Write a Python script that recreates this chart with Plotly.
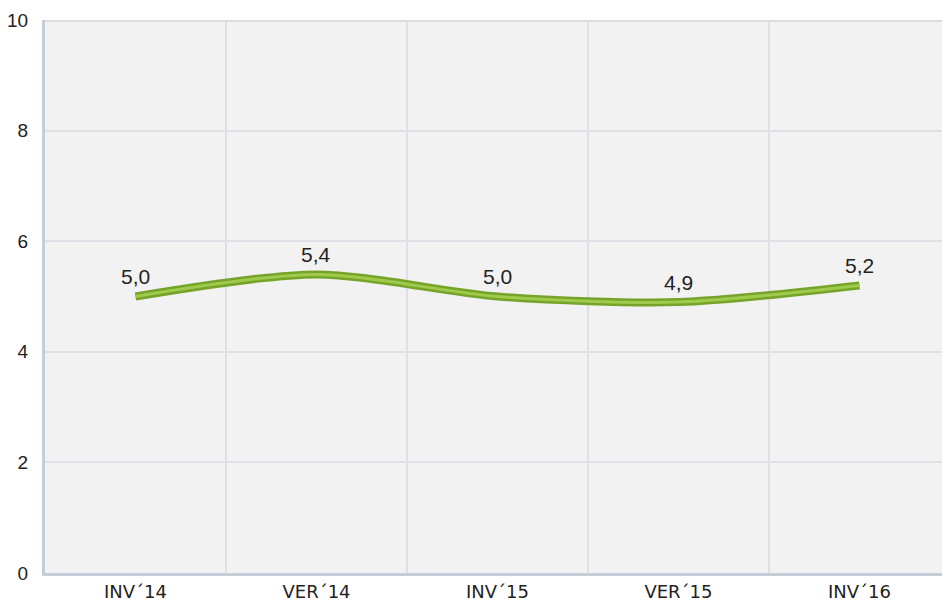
import plotly.graph_objects as go

categories = ["INV´14", "VER´14", "INV´15", "VER´15", "INV´16"]
values = [5.0, 5.4, 5.0, 4.9, 5.2]
labels = ["5,0", "5,4", "5,0", "4,9", "5,2"]
y_ticks = [0, 2, 4, 6, 8, 10]

xpos = list(range(len(categories)))

FONT = "Liberation Sans"

fig = go.Figure()
fig.add_trace(go.Scatter(
    x=xpos, y=values, mode="lines",
    line=dict(color="#76a42a", width=8, shape="spline", smoothing=0.8),
    hoverinfo="skip", showlegend=False))
fig.add_trace(go.Scatter(
    x=xpos, y=values, mode="lines",
    line=dict(color="#9fca4c", width=3, shape="spline", smoothing=0.8),
    showlegend=False))

for xi, yi, lab in zip(xpos, values, labels):
    fig.add_annotation(x=xi, y=yi, text=lab, showarrow=False,
                       yshift=20, yanchor="middle",
                       font=dict(family=FONT, size=21, color="#222222"))

fig.add_shape(type="line", xref="paper", yref="y", x0=0, x1=1, y0=10, y1=10,
              line=dict(color="#dcdcdc", width=4), layer="above")

fig.update_layout(
    width=942, height=610,
    margin=dict(l=45, r=0, t=20, b=37),
    paper_bgcolor="white", plot_bgcolor="#f2f2f2",
    font=dict(family=FONT, size=19, color="#222222"),
    xaxis=dict(range=[-0.5, 4.456], tickvals=xpos, ticktext=categories,
               showgrid=False, zeroline=False, showline=True,
               linecolor="#c5cdd8", linewidth=3, ticks="",
               tickfont=dict(family="DejaVu Sans", size=18),
               minor=dict(tickvals=[0.5, 1.5, 2.5, 3.5], showgrid=True,
                          gridcolor="#dde0e4", gridwidth=1.5)),
    yaxis=dict(range=[0, 10], tickvals=y_ticks, showgrid=True,
               gridcolor="#dde0e4", gridwidth=1.5, zeroline=False,
               showline=True, linecolor="#c5cdd8", linewidth=3,
               ticks="", ticklabelstandoff=10, tickfont=dict(size=19)),
)

fig.write_html("out.html", config={"displayModeBar": False},
               post_script="document.body.style.margin='0';document.body.style.overflow='hidden';")
